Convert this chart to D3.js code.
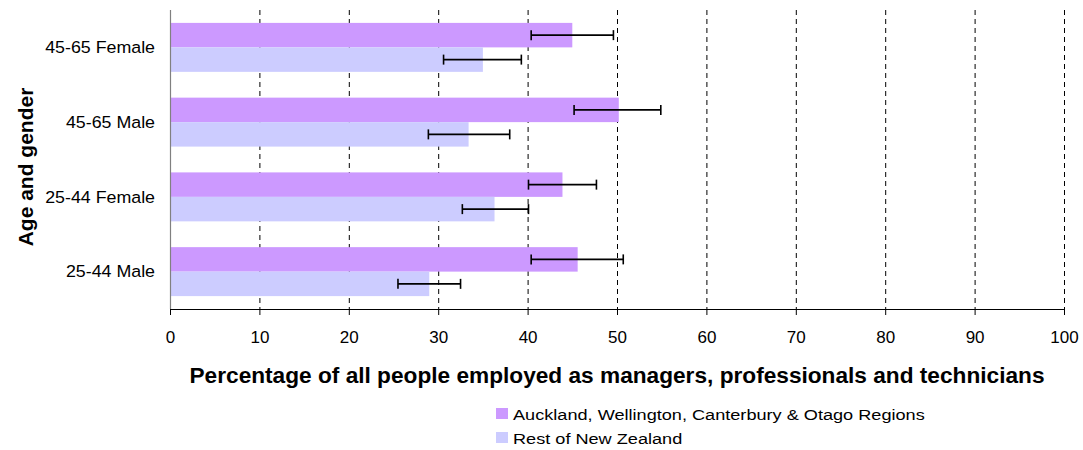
<!DOCTYPE html>
<html><head><meta charset="utf-8">
<script src="https://cdn.jsdelivr.net/npm/d3@7"></script>
<style>body{margin:0;background:#fff}svg{display:block;font-family:"Liberation Sans",Arial,sans-serif}</style>
</head><body><svg id="c" width="1083" height="450"></svg>
<script>
const categories = ["45-65 Female","45-65 Male","25-44 Female","25-44 Male"];
const seriesNames = ["Auckland, Wellington, Canterbury & Otago Regions","Rest of New Zealand"];
const mainValues = [45.0, 50.2, 43.9, 45.6];
const mainLow = [40.4, 45.2, 40.1, 40.4];
const mainHigh = [49.6, 54.9, 47.7, 50.7];
const restValues = [35.0, 33.4, 36.3, 29.0];
const restLow = [30.6, 28.9, 32.7, 25.5];
const restHigh = [39.3, 38.0, 40.1, 32.5];
const xTicks = [0,10,20,30,40,50,60,70,80,90,100];
const colors = ["#CC99FF","#CCCCFF"];

const svg = d3.select("#c");
const L=170, R=1064, T=10, B=309;
const x = d3.scaleLinear().domain([0,100]).range([L,R]);
const y = d3.scaleBand().domain(categories).range([T,B]).paddingInner(0.345).paddingOuter(0.1725);
const ySub = d3.scaleBand().domain([0,1]).range([0,y.bandwidth()]);

// grid
svg.append("g").selectAll("line").data(xTicks.filter(d=>d>0)).join("line")
  .attr("x1",d=>x(d)+0.5).attr("x2",d=>x(d)+0.5).attr("y1",T).attr("y2",B)
  .attr("stroke","#000").attr("stroke-width",1).attr("stroke-dasharray","5,4");

const series = [
  {vals:mainValues, lo:mainLow, hi:mainHigh},
  {vals:restValues, lo:restLow, hi:restHigh}
];
series.forEach((s,si)=>{
  svg.append("g").selectAll("rect").data(categories).join("rect")
    .attr("x",x(0)).attr("y",(d)=>y(d)+ySub(si))
    .attr("width",(d,i)=>x(s.vals[i])-x(0)).attr("height",ySub.bandwidth())
    .attr("fill",colors[si]);
});
series.forEach((s,si)=>{
  const g = svg.append("g").attr("stroke","#000").attr("stroke-width",1.6);
  categories.forEach((c,i)=>{
    const cy = y(c)+ySub(si)+ySub.bandwidth()/2;
    g.append("line").attr("x1",x(s.lo[i])).attr("x2",x(s.hi[i])).attr("y1",cy).attr("y2",cy);
    g.append("line").attr("x1",x(s.lo[i])).attr("x2",x(s.lo[i])).attr("y1",cy-5).attr("y2",cy+5);
    g.append("line").attr("x1",x(s.hi[i])).attr("x2",x(s.hi[i])).attr("y1",cy-5).attr("y2",cy+5);
  });
});

// y axis line
svg.append("line").attr("x1",L+0.5).attr("x2",L+0.5).attr("y1",T).attr("y2",B).attr("stroke","#808080").attr("stroke-width",1.2);

// x axis
const xa = svg.append("g").attr("transform",`translate(0,${B})`)
  .call(d3.axisBottom(x).tickValues(xTicks).tickSize(6).tickSizeOuter(0).tickPadding(16));
xa.attr("font-size",17).attr("font-family",null);
xa.select(".domain").attr("stroke","#000");
xa.selectAll(".tick line").attr("stroke","#000");
xa.selectAll("text").attr("fill","#000");

// category labels
svg.append("g").selectAll("text").data(categories).join("text")
  .attr("transform",d=>`translate(155,${y(d)+y.bandwidth()/2}) scale(1.08,1)`).attr("dy","0.35em")
  .attr("text-anchor","end").attr("font-size",16.5).text(d=>d);

// titles
svg.append("text").attr("x",617).attr("y",383).attr("text-anchor","middle")
  .attr("font-size",21.5).attr("font-weight","bold")
  .attr("textLength",855).attr("lengthAdjust","spacingAndGlyphs")
  .text("Percentage of all people employed as managers, professionals and technicians");
svg.append("text").attr("transform","translate(33,167) rotate(-90)").attr("text-anchor","middle")
  .attr("font-size",21).attr("font-weight","bold").text("Age and gender");

// legend
const lg = svg.append("g");
seriesNames.forEach((n,i)=>{
  const ly = 413.5 + i*24;
  lg.append("rect").attr("x",496).attr("y",ly-5.5).attr("width",12).attr("height",11).attr("fill",colors[i]);
  lg.append("text").attr("transform",`translate(513,${ly+6}) scale(1.17,1)`)
    .attr("font-size",15.5).text(n);
});
</script></body></html>
